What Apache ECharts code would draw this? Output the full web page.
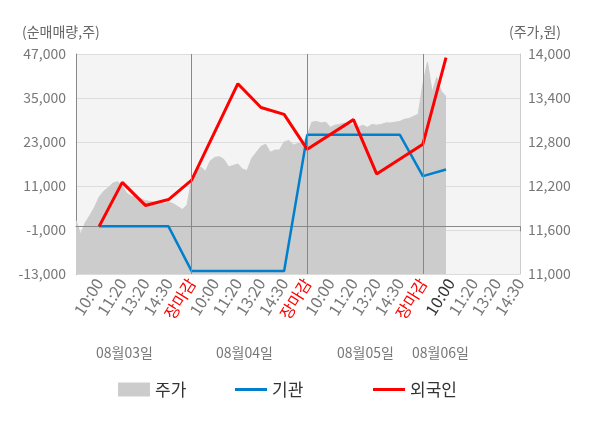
<!DOCTYPE html>
<html><head><meta charset="utf-8">
<script src="https://cdn.jsdelivr.net/npm/echarts/dist/echarts.min.js"></script>
<style>html,body{margin:0;padding:0;background:#fff}#c{width:600px;height:428px}</style>
</head><body><div id="c"></div>
<script>
// ---- data ----
const dayLabels = ['08월03일', '08월04일', '08월05일', '08월06일'];
const timeLabels = ['10:00', '11:20', '13:20', '14:30', '장마감'];
const leftTicks = [-13000, -1000, 11000, 23000, 35000, 47000];
const rightTicks = [11000, 11600, 12200, 12800, 13400, 14000];

// price (주가) sampled along the axis, day 1 .. day 4 (10:00)
const price = [
  11730, 11540, 11700, 11800, 11910, 12050, 12130, 12180, 12240, 12260,
  12200, 12100, 12060, 12050, 12030, 12000, 11990, 11980, 11950, 11960,
  11980, 11960, 11920, 11880, 11940,
  12280, 12400, 12460, 12400, 12540, 12590, 12600, 12560, 12460, 12480,
  12500, 12430, 12410, 12580, 12660, 12740, 12770, 12660, 12690, 12690,
  12800, 12820, 12760, 12780, 12780,
  12890, 13070, 13080, 13060, 13070, 13000, 13030, 13040, 13060, 13030,
  13040, 13000, 13030, 13000, 13040, 13030, 13040, 13060, 13060, 13070,
  13080, 13110, 13120, 13150, 13180,
  13590, 13890, 13480, 13680, 13490, 13420
];

// net buying (순매매량) at reporting times; slot = position on the axis
const flowSlots   = [5, 10, 15, 20, 25, 35, 40, 45, 50, 60, 65, 70, 75, 80];
const institution = [0, 0, 0, 0, -12200, -12200, -12200, -12200, 25000, 25000, 25000, 25000, 13700, 15500];
const foreign     = [0, 12000, 5700, 7300, 12600, 38900, 32400, 30550, 21000, 29100, 14300, null, 22400, 46000];

// ---- axis construction ----
const SLOTS_PER_DAY = 25;
const LAST_SLOT = 96;
const categories = [];
const xLabels = [];
for (let i = 0; i <= LAST_SLOT; i++) {
  const d = Math.min(Math.floor(i / SLOTS_PER_DAY), 3);
  categories.push(dayLabels[d] + '#' + i);
  xLabels.push('');
}
for (let d = 0; d < 3; d++) {
  for (let k = 0; k < 5; k++) xLabels[d * SLOTS_PER_DAY + 5 * (k + 1)] = timeLabels[k];
}
for (let k = 0; k < 4; k++) xLabels[3 * SLOTS_PER_DAY + 6 + 5 * k] = timeLabels[k];
const daySplits = [1, 2, 3].map(d => categories[d * SLOTS_PER_DAY]);
const tickSlots = [0, 25, 50, 75, LAST_SLOT];

function spread(values) {
  const arr = new Array(categories.length).fill(null);
  flowSlots.forEach((s, j) => { arr[s] = values[j]; });
  return arr;
}
const priceFull = categories.map((c, i) => i < price.length ? price[i] : null);

const FONT = '"Noto Sans CJK KR", "Noto Sans", sans-serif';
const legendText = {fontSize: 17, color: '#333', fontFamily: FONT};
const chart = echarts.init(document.getElementById('c'), null, {renderer: 'canvas'});
chart.setOption({
  animation: false,
  textStyle: {fontFamily: FONT},
  grid: {left: 76, right: 80, top: 54, bottom: 154, show: true, backgroundColor: '#f4f4f4', borderWidth: 0, outerBoundsMode: 'none', containLabel: false},
  legend: [
    {data: [{name: '주가', icon: 'rect'}], left: 113, top: 376, itemWidth: 32, itemHeight: 14, selectedMode: false, textStyle: legendText},
    {data: [{name: '기관', icon: 'rect'}], left: 230, top: 376, itemWidth: 32, itemHeight: 3, selectedMode: false, textStyle: legendText},
    {data: [{name: '외국인', icon: 'rect'}], left: 368, top: 376, itemWidth: 32, itemHeight: 3, selectedMode: false, textStyle: legendText}
  ],
  graphic: [
    {type: 'text', left: 22, top: 25, style: {text: '(순매매량,주)', fontSize: 14, fill: '#666', fontFamily: FONT}},
    {type: 'text', left: 509, top: 25, style: {text: '(주가,원)', fontSize: 14, fill: '#666', fontFamily: FONT}},
    ...dayLabels.map((t, i) => ({type: 'text', left: [96, 216, 337, 412][i], top: 346,
      style: {text: t, fontSize: 14, fill: '#777', fontFamily: FONT}}))
  ],
  xAxis: {
    type: 'category', data: categories, boundaryGap: false,
    axisLine: {show: true, lineStyle: {color: '#888'}},
    axisTick: {show: true, length: 5, lineStyle: {color: '#888'}, interval: (i) => tickSlots.indexOf(i) >= 0},
    splitLine: {show: false},
    axisLabel: {
      interval: (i) => xLabels[i] !== '', rotate: 58, margin: 6, fontSize: 16, color: '#777', fontFamily: FONT,
      formatter: (v, i) => {
        const t = xLabels[i];
        if (t === '장마감') return '{r|' + t + '}';
        if (i === 3 * SLOTS_PER_DAY + 6) return '{k|' + t + '}';
        return t;
      },
      rich: {r: {color: '#ff0000', fontSize: 16, fontFamily: FONT}, k: {color: '#333', fontSize: 16, fontFamily: FONT}}
    }
  },
  yAxis: [
    {type: 'value', position: 'left', min: leftTicks[0], max: leftTicks[leftTicks.length - 1], interval: leftTicks[1] - leftTicks[0],
     axisLine: {show: true, lineStyle: {color: '#888'}}, axisTick: {show: false},
     axisLabel: {fontSize: 14, color: '#777', margin: 10, fontFamily: FONT},
     splitLine: {show: true, lineStyle: {color: '#dcdcdc'}}},
    {type: 'value', position: 'right', min: rightTicks[0], max: rightTicks[rightTicks.length - 1], interval: rightTicks[1] - rightTicks[0],
     axisLine: {show: true, lineStyle: {color: '#ccc'}}, axisTick: {show: false},
     axisLabel: {fontSize: 14, color: '#777', margin: 8, fontFamily: FONT},
     splitLine: {show: false}}
  ],
  series: [
    {name: '주가', type: 'line', yAxisIndex: 1, data: priceFull, symbol: 'none', z: 1,
     color: '#cccccc', lineStyle: {width: 1, color: '#cccccc'}, itemStyle: {color: '#cccccc'},
     areaStyle: {color: '#cccccc', opacity: 1, origin: 'start'},
     markLine: {silent: true, symbol: 'none', label: {show: false}, animation: false,
       lineStyle: {color: '#888', type: 'solid', width: 1},
       data: daySplits.map(c => ({xAxis: c}))}},
    {name: '기관', type: 'line', yAxisIndex: 0, data: spread(institution), connectNulls: true, symbol: 'none', z: 3,
     color: '#0080cc', lineStyle: {width: 2.5, color: '#0080cc'}, itemStyle: {color: '#0080cc'},
     markLine: {silent: true, symbol: 'none', label: {show: false}, animation: false, z: 2,
       lineStyle: {color: '#888', type: 'solid', width: 1}, data: [{yAxis: 0}]}},
    {name: '외국인', type: 'line', yAxisIndex: 0, data: spread(foreign), connectNulls: true, symbol: 'none', z: 4,
     color: '#ff0000', lineStyle: {width: 3, color: '#ff0000'}, itemStyle: {color: '#ff0000'}}
  ]
});
</script></body></html>
